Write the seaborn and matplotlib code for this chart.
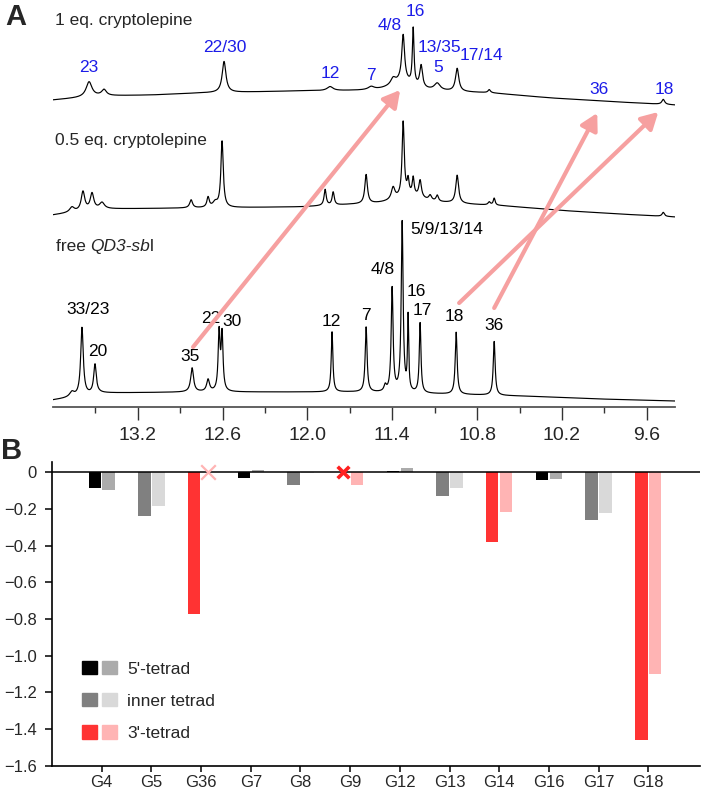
import numpy as np
import pandas as pd
import matplotlib
matplotlib.use('Agg')
import matplotlib.pyplot as plt
import seaborn as sns
from matplotlib.patches import Patch
from matplotlib.legend_handler import HandlerTuple

# ---------------- panel A: 1H imino spectra (peak tables) ----------------
# baseline anchors (ppm, level); y unit = pixel height above the ppm axis
FREE_BASE_PPM = [13.8, 13.64, 13.47, 12.76, 11.70, 11.06, 10.50, 9.93, 9.4]
FREE_BASE_LVL = [7, 10, 14, 15, 15, 13, 11, 8, 6]
FREE_PEAK_PPM = [13.666, 13.595, 13.503, 12.816, 12.703, 12.625, 12.604, 11.826, 11.585,
                 11.450, 11.401, 11.330, 11.288, 11.203, 10.948, 10.679]
FREE_PEAK_H = [5, 68, 29, 24, 12, 58, 56, 60, 65, 6, 104, 170, 74, 70, 62, 54]
FREE_PEAK_W = [0.02, 0.011, 0.011, 0.012, 0.012, 0.008, 0.008, 0.007, 0.008,
               0.01, 0.008, 0.008, 0.005, 0.007, 0.008, 0.008]

HALF_BASE_PPM = [13.8, 13.47, 12.76, 12.05, 11.70, 11.0, 10.62, 10.15, 9.8, 9.4]
HALF_BASE_LVL = [192, 198, 199, 200, 202, 203, 201, 196, 193, 190]
HALF_PEAK_PPM = [13.666, 13.588, 13.524, 13.453, 12.823, 12.703, 12.653, 12.604, 11.875,
                 11.818, 11.585, 11.394, 11.323, 11.288, 11.252, 11.203, 11.132, 11.082,
                 10.941, 10.714, 10.679, 9.483, 11.28]
HALF_PEAK_H = [5, 19, 16, 6, 8, 10, 5, 66, 16, 13, 29, 12, 74, 14, 17, 17, 5, 6, 28, 3, 7, 4, 9]
HALF_PEAK_W = [0.02, 0.015, 0.015, 0.02, 0.012, 0.01, 0.02, 0.01, 0.009,
               0.009, 0.011, 0.015, 0.009, 0.008, 0.008, 0.011, 0.012, 0.01,
               0.012, 0.01, 0.008, 0.01, 0.12]

ONE_BASE_PPM = [13.8, 13.47, 13.1, 12.76, 12.05, 11.70, 11.0, 10.71, 10.28, 9.8, 9.4]
ONE_BASE_LVL = [307, 311, 312, 314, 316, 316, 315, 314, 309, 305, 302]
ONE_PEAK_PPM = [13.545, 13.439, 12.590, 11.840, 11.549, 11.33, 11.394, 11.323, 11.252,
                11.196, 11.082, 10.941, 10.714, 9.483]
ONE_PEAK_H = [15, 6, 31, 4, 3, 10, 6, 46, 56, 22, 7, 23, 3, 5]
ONE_PEAK_W = [0.025, 0.02, 0.016, 0.025, 0.025, 0.1, 0.02, 0.012, 0.007,
              0.012, 0.025, 0.014, 0.01, 0.012]

SPEC_TITLES = ['1 eq. cryptolepine', '0.5 eq. cryptolepine']
SPEC_TITLE_Y = [386, 266]

BLUE_LABELS = ['23', '22/30', '12', '7', '4/8', '16', '13/35', '5', '17/14', '36', '18']
BLUE_PPM = [13.545, 12.583, 11.840, 11.549, 11.415, 11.238, 11.068, 11.075, 10.771, 9.936, 9.476]
BLUE_Y = [339, 360, 334, 331, 382, 395, 360, 340, 351, 318, 318]

FREE_LABELS = ['33/23', '20', '35', '22', '30', '12', '7', '4/8', '5/9/13/14', '16', '17', '18', '36']
FREE_LAB_PPM = [13.552, 13.482, 12.830, 12.682, 12.533, 11.833, 11.585, 11.465, 11.012,
                11.231, 11.189, 10.962, 10.679]
FREE_LAB_Y = [97, 55, 50, 88, 85, 85, 91, 137, 178, 115, 96, 90, 81]

# shift arrows: (ppm, y) start in free spectrum -> end in 1 eq. spectrum
ARROW_START = [(12.809, 60), (10.927, 104), (10.679, 99)]
ARROW_END = [(11.344, 317), (9.518, 295), (9.950, 294)]

# ---------------- panel B: chemical shift changes ----------------
genes = ['G4', 'G5', 'G36', 'G7', 'G8', 'G9', 'G12', 'G13', 'G14', 'G16', 'G17', 'G18']
tetrad = ["5'", 'inner', "3'", "5'", 'inner', "3'", "5'", 'inner', "3'", "5'", 'inner', "3'"]
dark_vals = [-0.084, -0.24, -0.772, -0.03, -0.069, np.nan, 0.007, -0.13, -0.38, -0.044, -0.26, -1.46]
light_vals = [-0.096, -0.185, np.nan, 0.012, -0.005, -0.07, 0.022, -0.087, -0.216, -0.036, -0.223, -1.10]

dark_pal = {"5'": '#000000', 'inner': '#808080', "3'": '#ff3333'}
light_pal = {"5'": '#ababab', 'inner': '#d9d9d9', "3'": '#ffb4b4'}
legend_names = {"5'": "5'-tetrad", 'inner': 'inner tetrad', "3'": "3'-tetrad"}

sns.set_theme(style='white')
plt.rcParams['font.family'] = ['Liberation Sans', 'DejaVu Sans']

W, H = 701, 792
fig = plt.figure(figsize=(W / 100, H / 100), dpi=100)


def fbox(x0, y0, x1, y1):
    return [x0 / W, 1 - y1 / H, (x1 - x0) / W, (y1 - y0) / H]


def spectrum(ppm, base_ppm, base_lvl, pk_ppm, pk_h, pk_w):
    y = np.interp(ppm, base_ppm[::-1], base_lvl[::-1])
    for p, h, w in zip(pk_ppm, pk_h, pk_w):
        y = y + h * w ** 2 / ((ppm - p) ** 2 + w ** 2)
    return y


axA = fig.add_axes(fbox(53, 0, 675, 407))
ppm = np.linspace(13.8, 9.4, 4000)
for bp, bl, pp, ph, pw in [(FREE_BASE_PPM, FREE_BASE_LVL, FREE_PEAK_PPM, FREE_PEAK_H, FREE_PEAK_W),
                           (HALF_BASE_PPM, HALF_BASE_LVL, HALF_PEAK_PPM, HALF_PEAK_H, HALF_PEAK_W),
                           (ONE_BASE_PPM, ONE_BASE_LVL, ONE_PEAK_PPM, ONE_PEAK_H, ONE_PEAK_W)]:
    spec = spectrum(ppm, bp, bl, pp, ph, pw)
    sns.lineplot(x=ppm, y=spec, ax=axA, color='black', linewidth=0.85,
                 estimator=None, sort=False)

axA.set_xlim(13.8, 9.4)
axA.set_ylim(0, 407)
axA.set_yticks([])
axA.set_xlabel('')
axA.set_ylabel('')
for s in ['left', 'top', 'right']:
    axA.spines[s].set_visible(False)
axA.spines['bottom'].set_color('#555555')
axA.spines['bottom'].set_linewidth(1.3)
axA.set_xticks([13.2, 12.6, 12.0, 11.4, 10.8, 10.2, 9.6])
axA.set_xticklabels(['13.2', '12.6', '12.0', '11.4', '10.8', '10.2', '9.6'])
axA.set_xticks([13.5, 12.9, 12.3, 11.7, 11.1, 10.5, 9.9], minor=True)
axA.tick_params(axis='x', which='major', direction='out', length=9.5, width=1,
                color='#333333', labelsize=14, pad=5, bottom=True)
axA.tick_params(axis='x', which='minor', direction='out', length=4.5, width=1,
                color='#333333', bottom=True)

for t, y in zip(SPEC_TITLES, SPEC_TITLE_Y):
    axA.text(13.785, y, t, fontsize=12.5, va='center', ha='left')
t1 = axA.text(13.78, 153, 'free ', fontsize=12.5, va='bottom', ha='left')
t2 = axA.annotate('QD3-sb', xy=(1, 0), xycoords=t1, fontsize=12.5, style='italic',
                  va='bottom', ha='left')
axA.annotate('l', xy=(1, 0), xycoords=t2, fontsize=12.5, va='bottom', ha='left')

for lab, p, y in zip(BLUE_LABELS, BLUE_PPM, BLUE_Y):
    axA.text(p, y, lab, color='#1c1ce8', fontsize=12.5, ha='center', va='center')
for lab, p, y in zip(FREE_LABELS, FREE_LAB_PPM, FREE_LAB_Y):
    axA.text(p, y, lab, color='black', fontsize=12.5, ha='center', va='center')

for st, en in zip(ARROW_START, ARROW_END):
    axA.annotate('', xy=en, xytext=st, zorder=5,
                 arrowprops=dict(arrowstyle='-|>,head_length=0.9,head_width=0.5',
                                 color='#f6a0a0', lw=3, shrinkA=0, shrinkB=0,
                                 mutation_scale=11))

fig.text(16 / W, 1 - 17 / H, 'A', fontsize=21, fontweight='bold', ha='center', va='center')
fig.text(12 / W, 1 - 451 / H, 'B', fontsize=21, fontweight='bold', ha='center', va='center')

# ---------------- panel B ----------------
axB = fig.add_axes(fbox(52, 461.7, 700, 765.7))
idx = np.arange(len(genes))
df = pd.DataFrame({'gene': genes, 'tetrad': tetrad, 'dark': dark_vals, 'light': light_vals, 'i': idx})

d = df.dropna(subset=['dark'])
sns.barplot(x=d['i'] - 0.14, y=d['dark'], hue=d['tetrad'], palette=dark_pal, native_scale=True,
            width=0.25, dodge=False, errorbar=None, legend=False, linewidth=0, saturation=1,
            ax=axB)
l = df.dropna(subset=['light'])
sns.barplot(x=l['i'] + 0.14, y=l['light'], hue=l['tetrad'], palette=light_pal, native_scale=True,
            width=0.25, dodge=False, errorbar=None, legend=False, linewidth=0, saturation=1,
            ax=axB)

# not observed signals
miss_d = df[df['dark'].isna()]
miss_l = df[df['light'].isna()]
axB.scatter(miss_d['i'] - 0.14, np.zeros(len(miss_d)), marker='x', s=70, linewidths=2.6,
            color='#ff2020', zorder=6)
axB.scatter(miss_l['i'] + 0.14, np.zeros(len(miss_l)), marker='x', s=110, linewidths=1.6,
            color='#ffb4b4', zorder=6)

axB.axhline(0, color='black', linewidth=1.1, zorder=4)
axB.set_xlim(-1, 12.04)
axB.set_ylim(-1.6, 0.058)
axB.set_xticks(idx)
axB.set_xticklabels(genes)
yt = np.round(np.arange(-1.6, 0.01, 0.2), 1)
axB.set_yticks(yt)
axB.set_yticklabels(['0' if v == 0 else f'{v:.1f}'.replace('-', '\u2212') for v in yt])
axB.set_xlabel('')
axB.set_ylabel('')
for s in ['top', 'right']:
    axB.spines[s].set_visible(False)
for s in ['left', 'bottom']:
    axB.spines[s].set_color('black')
    axB.spines[s].set_linewidth(1.2)
axB.tick_params(axis='x', direction='out', length=4, width=1.1, labelsize=12, pad=3,
                bottom=True, color='black')
axB.tick_params(axis='y', direction='out', length=5, width=1.1, labelsize=12, pad=6,
                left=True, color='black')

handles = [(Patch(color=dark_pal[k]), Patch(color=light_pal[k])) for k in ["5'", 'inner', "3'"]]
labels = [legend_names[k] for k in ["5'", 'inner', "3'"]]
axB.legend(handles, labels, handler_map={tuple: HandlerTuple(ndivide=None, pad=0.3)},
           loc='upper left', bbox_to_anchor=(82 / W, 1 - 661 / H), bbox_transform=fig.transFigure,
           frameon=False, fontsize=12.5, handlelength=2.0, handleheight=0.8,
           handletextpad=0.6, labelspacing=0.95, borderpad=0, borderaxespad=0)

fig.savefig('out.png', dpi=100)
plt.close(fig)
